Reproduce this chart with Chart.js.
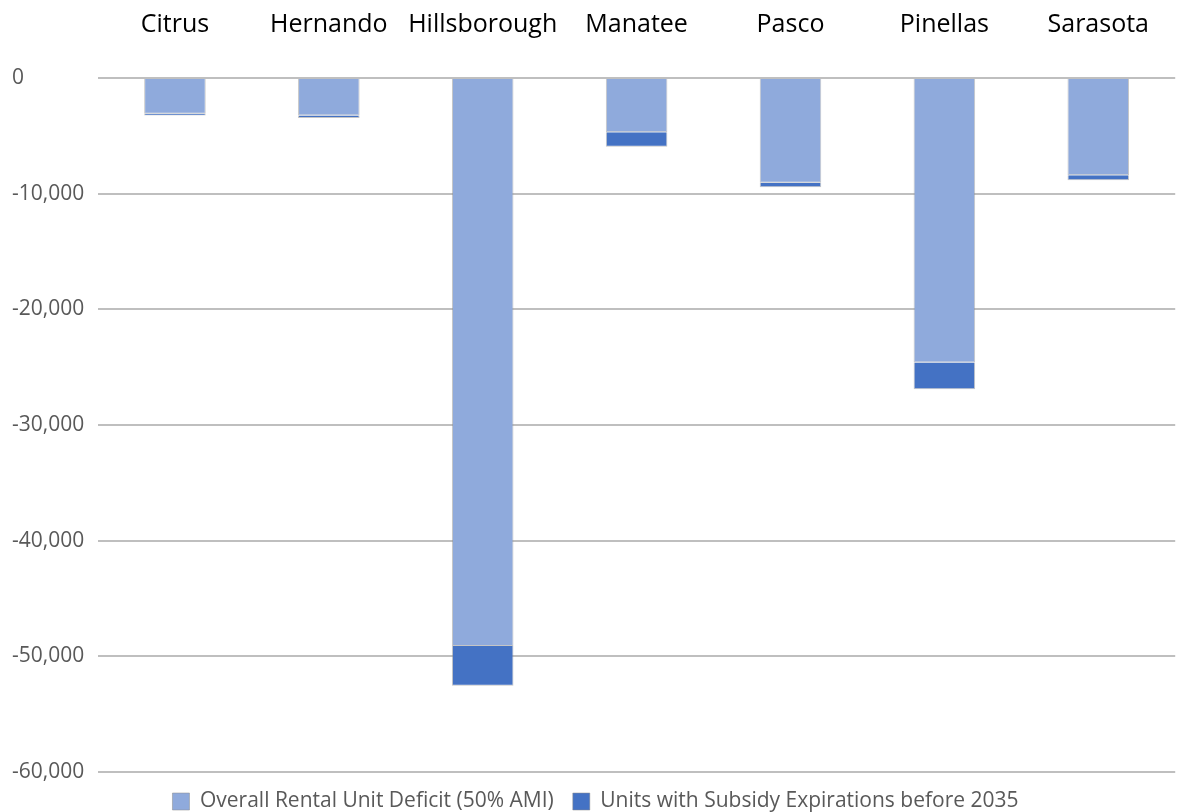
<!DOCTYPE html>
<html>
<head>
<meta charset="utf-8">
<script src="https://cdn.jsdelivr.net/npm/chart.js@4"></script>
<style>
  html, body { margin: 0; padding: 0; background: #fff; overflow: hidden; }
  #wrap { width: 1179px; height: 812px; }
</style>
</head>
<body>
<div id="wrap"><canvas id="deficit-chart" width="1179" height="812"></canvas></div>
<script>
const counties = ["Citrus", "Hernando", "Hillsborough", "Manatee", "Pasco", "Pinellas", "Sarasota"];
const overallDeficit = [-3100, -3250, -49100, -4700, -9050, -24600, -8400];
const subsidyExpirations = [-150, -200, -3450, -1250, -400, -2300, -450];
const yTicks = [0, -10000, -20000, -30000, -40000, -50000, -60000];

const ctx = document.getElementById("deficit-chart");

new Chart(ctx, {
  type: "bar",
  data: {
    labels: counties,
    datasets: [
      {
        label: "Overall Rental Unit Deficit (50% AMI)",
        data: overallDeficit,
        backgroundColor: "#8faadc",
        borderColor: "rgba(140,140,140,0.5)",
        borderWidth: 1,
      },
      {
        label: "Units with Subsidy Expirations before 2035",
        data: subsidyExpirations,
        backgroundColor: "#4472c4",
        borderColor: "rgba(140,140,140,0.5)",
        borderWidth: 1,
      },
    ],
  },
  options: {
    responsive: false,
    animation: false,
    // legend sits low in the original, so let its box run a bit past the bottom edge
    layout: { padding: { left: 12, right: 0, top: 0, bottom: -10 } },
    datasets: { bar: { barPercentage: 0.4, categoryPercentage: 1 } },
    plugins: {
      tooltip: { enabled: false },
      legend: {
        position: "bottom",
        labels: {
          boxWidth: 17,
          boxHeight: 17,
          padding: 19,
          color: "#595959",
          font: { family: "Open Sans", size: 21 },
        },
      },
    },
    scales: {
      x: {
        position: "top",
        stacked: true,
        grid: { display: false },
        border: { display: false },
        ticks: {
          color: "#000",
          padding: 30,
          autoSkip: false,
          maxRotation: 0,
          minRotation: 0,
          font: { family: "Open Sans", size: 25 },
        },
        afterFit: (scale) => {
          scale.height = 78;
        },
      },
      y: {
        stacked: true,
        min: -60000,
        max: 0,
        afterBuildTicks: (scale) => {
          scale.ticks = yTicks.map((v) => ({ value: v }));
        },
        grid: { color: "#bfbfbf", lineWidth: 2, drawTicks: false },
        border: { display: false },
        ticks: {
          crossAlign: "far",
          color: "#595959",
          font: { family: "Open Sans", size: 21 },
          callback: (value) => value.toLocaleString("en-US"),
        },
        afterFit: (scale) => {
          scale.width = 86;
        },
      },
    },
  },
});
</script>
</body>
</html>
